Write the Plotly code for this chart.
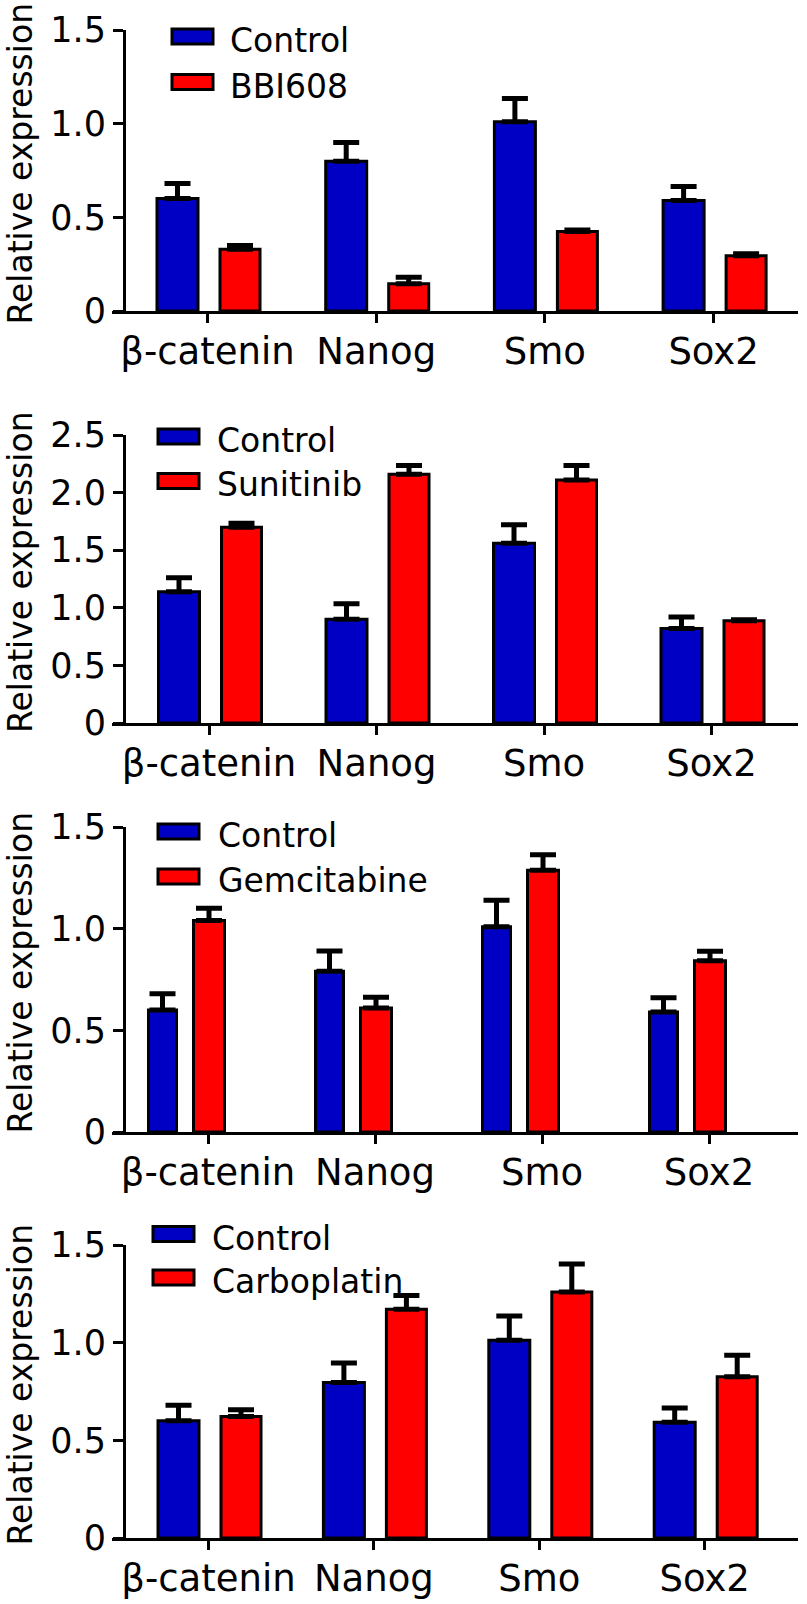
import plotly.graph_objects as go

W, H = 807, 1604

genes = ["β-catenin", "Nanog", "Smo", "Sox2"]
treatments = ["BBI608", "Sunitinib", "Gemcitabine", "Carboplatin"]
ytick_vals_15 = [0, 0.5, 1.0, 1.5]
ytick_text_15 = ["0", "0.5", "1.0", "1.5"]
ytick_vals_25 = [0, 0.5, 1.0, 1.5, 2.0, 2.5]
ytick_text_25 = ["0", "0.5", "1.0", "1.5", "2.0", "2.5"]

# Panel 1: Control vs BBI608
ctrl_bbi = [0.60, 0.80, 1.01, 0.59]
ctrl_bbi_err = [0.08, 0.10, 0.125, 0.075]
bbi = [0.33, 0.145, 0.425, 0.295]
bbi_err = [0.02, 0.035, 0.008, 0.01]

# Panel 2: Control vs Sunitinib
ctrl_sun = [1.14, 0.90, 1.56, 0.82]
ctrl_sun_err = [0.12, 0.135, 0.16, 0.10]
sun = [1.70, 2.16, 2.11, 0.887]
sun_err = [0.035, 0.075, 0.125, 0.01]

# Panel 3: Control vs Gemcitabine
ctrl_gem = [0.60, 0.79, 1.01, 0.59]
ctrl_gem_err = [0.08, 0.10, 0.13, 0.07]
gem = [1.04, 0.61, 1.287, 0.842]
gem_err = [0.06, 0.053, 0.077, 0.047]

# Panel 4: Control vs Carboplatin
ctrl_car = [0.60, 0.796, 1.012, 0.593]
ctrl_car_err = [0.08, 0.10, 0.125, 0.072]
car = [0.622, 1.171, 1.26, 0.825]
car_err = [0.034, 0.07, 0.143, 0.111]

BLUE = "#0000C4"
RED = "#FF0000"
FONT = "DejaVu Sans"

# geometry in pixels (style only)
panels = [
    dict(ctrl=ctrl_bbi, ctrl_err=ctrl_bbi_err, trt=bbi, trt_err=bbi_err, name=treatments[0],
         y0=311, ytop=30, ymax=1.5, tv=ytick_vals_15, tt=ytick_text_15,
         tick0=207.5, sp=168.7, cb=(-50.5, 41), tb=(12.5, 40),
         lx=172, ly=(36.5, 82), tx=228),
    dict(ctrl=ctrl_sun, ctrl_err=ctrl_sun_err, trt=sun, trt_err=sun_err, name=treatments[1],
         y0=723, ytop=435, ymax=2.5, tv=ytick_vals_25, tt=ytick_text_25,
         tick0=209, sp=167.5, cb=(-50.5, 41), tb=(12.5, 40),
         lx=158, ly=(436.5, 481), tx=215),
    dict(ctrl=ctrl_gem, ctrl_err=ctrl_gem_err, trt=gem, trt_err=gem_err, name=treatments[2],
         y0=1132, ytop=827, ymax=1.5, tv=ytick_vals_15, tt=ytick_text_15,
         tick0=208, sp=167, cb=(-59.5, 28), tb=(-14.5, 31),
         lx=158, ly=(831.5, 876.5), tx=216),
    dict(ctrl=ctrl_car, ctrl_err=ctrl_car_err, trt=car, trt_err=car_err, name=treatments[3],
         y0=1538, ytop=1245, ymax=1.5, tv=ytick_vals_15, tt=ytick_text_15,
         tick0=208.5, sp=165.4, cb=(-50.5, 41), tb=(12.5, 40),
         lx=153, ly=(1234, 1277.5), tx=210),
]

XL, XR, YAX = 112, 798, 124

fig = go.Figure()
shapes = []
annotations = []

def px_x(x):
    return x / W

def px_y(y):
    return 1 - y / H

for i, p in enumerate(panels):
    k = "" if i == 0 else str(i + 1)
    xa, ya = "x" + k, "y" + k
    sp = p["sp"]
    for vals, errs, color, (off, wid), nm in [
        (p["ctrl"], p["ctrl_err"], BLUE, p["cb"], "Control"),
        (p["trt"], p["trt_err"], RED, p["tb"], p["name"]),
    ]:
        fig.add_trace(go.Bar(
            x=genes, y=vals, xaxis=xa, yaxis=ya, name=nm,
            offset=off / sp, width=wid / sp,
            marker=dict(color=color, line=dict(color="black", width=3)),
            error_y=dict(type="data", array=errs, arrayminus=[0] * len(errs),
                         symmetric=False, color="black", thickness=5, width=13),
            showlegend=False,
        ))
    r0 = (XL - p["tick0"]) / sp
    r1 = r0 + (XR - XL) / sp
    fig.update_layout(**{
        "xaxis" + k: dict(
            domain=[px_x(XL), px_x(XR)], anchor=ya, type="category",
            range=[r0, r1], showline=True, linecolor="black", linewidth=3,
            ticks="outside", ticklen=9, tickwidth=3, tickcolor="black",
            tickfont=dict(family=FONT, size=37, color="black"),
            ticklabelstandoff=-3,
            showgrid=False, zeroline=False, fixedrange=True,
        ),
        "yaxis" + k: dict(
            domain=[px_y(p["y0"]), px_y(p["ytop"])], anchor="free",
            position=px_x(YAX), range=[0, p["ymax"]],
            tickvals=p["tv"], ticktext=p["tt"],
            showline=True, linecolor="black", linewidth=3,
            ticks="outside", ticklen=10, tickwidth=3, tickcolor="black",
            tickfont=dict(family=FONT, size=35, color="black"),
            showgrid=False, zeroline=False, fixedrange=True,
        ),
    })
    # y title
    annotations.append(dict(
        text="Relative expression", x=px_x(20), y=px_y((p["y0"] + p["ytop"]) / 2 - 7),
        xref="paper", yref="paper", showarrow=False, textangle=-90,
        xanchor="center", yanchor="middle",
        font=dict(family=FONT, size=33, color="black"),
    ))
    # legend
    for (cy, color, label) in [(p["ly"][0], BLUE, "Control"), (p["ly"][1], RED, p["name"])]:
        shapes.append(dict(
            type="rect", xref="paper", yref="paper",
            x0=px_x(p["lx"]), x1=px_x(p["lx"] + 41),
            y0=px_y(cy + 7.5), y1=px_y(cy - 7.5),
            fillcolor=color, line=dict(color="black", width=3),
        ))
        annotations.append(dict(
            text=label, x=px_x(p["tx"]), y=px_y(cy + 4),
            xref="paper", yref="paper", showarrow=False,
            xanchor="left", yanchor="middle",
            font=dict(family=FONT, size=33, color="black"),
        ))

fig.update_layout(
    width=W, height=H, autosize=False,
    margin=dict(l=0, r=0, t=0, b=0, autoexpand=False),
    paper_bgcolor="white", plot_bgcolor="white",
    barmode="overlay", showlegend=False,
    shapes=shapes, annotations=annotations,
)

fig.write_html(
    "out.html",
    config={"displayModeBar": False, "staticPlot": True},
    post_script="document.body.style.margin='0';document.body.style.overflow='hidden';",
)
